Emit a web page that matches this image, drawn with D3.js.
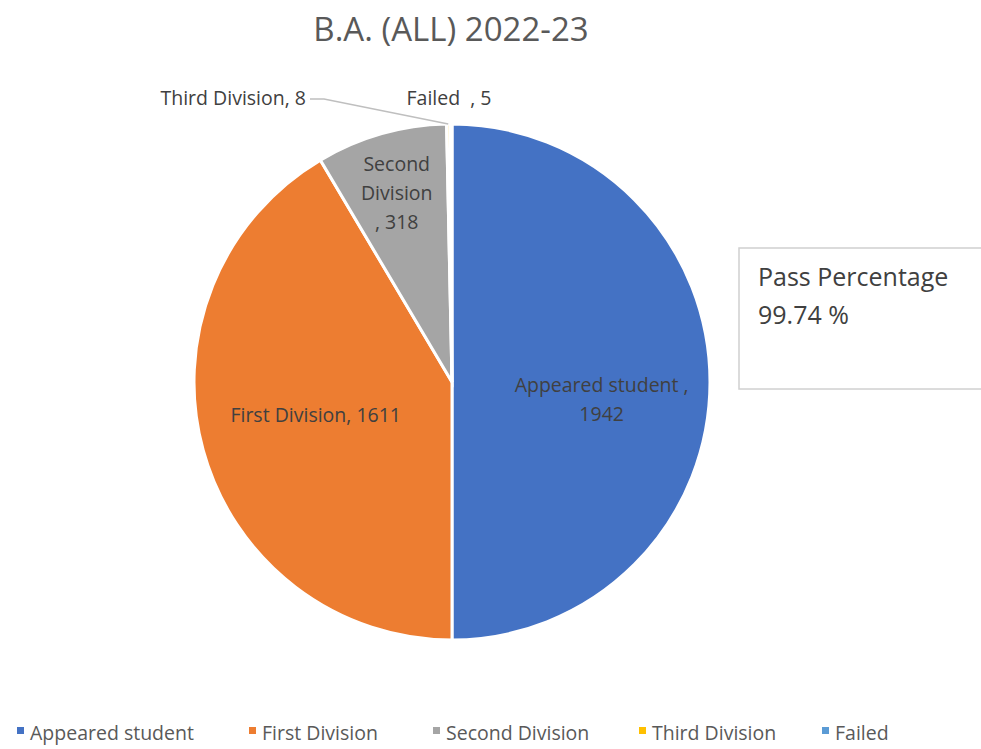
<!DOCTYPE html>
<html>
<head>
<meta charset="utf-8">
<script src="https://cdn.jsdelivr.net/npm/d3@7"></script>
<style>
body { margin: 0; background: #fff; }
text { font-family: "Open Sans", "Noto Sans", sans-serif; white-space: pre; }
</style>
</head>
<body>
<script>
var categories = ["Appeared student", "First Division", "Second Division", "Third Division", "Failed"];
var values = [1942, 1611, 318, 8, 5];
var colors = ["#4472c4", "#ed7d31", "#a5a5a5", "#ffc000", "#5b9bd5"];

var width = 981, height = 749;
var cx = 452, cy = 382, radius = 258;

var svg = d3.select("body").append("svg")
  .attr("width", width)
  .attr("height", height);

svg.append("text")
  .attr("x", 451).attr("y", 41)
  .attr("text-anchor", "middle")
  .style("font-size", "33px")
  .style("fill", "#595959")
  .text("B.A. (ALL) 2022-23");

var pie = d3.pie().sort(null).value(function(d) { return d; });
var arcs = pie(values);
var arc = d3.arc().innerRadius(0).outerRadius(radius);

var g = svg.append("g").attr("transform", "translate(" + cx + "," + cy + ")");

g.selectAll("path")
  .data(arcs)
  .enter()
  .append("path")
  .attr("d", arc)
  .style("fill", function(d, i) { return colors[i]; })
  .style("stroke", "#fff")
  .style("stroke-width", 3);

// labels inside / outside slices
var labelArc = d3.arc().innerRadius(radius * 0.58).outerRadius(radius * 0.58);
var labelStyle = function(sel) {
  sel.style("font-size", "19.5px").style("fill", "#404040").attr("text-anchor", "middle");
};

// Appeared student
var p0 = labelArc.centroid(arcs[0]);
var t0 = g.append("text").call(labelStyle).attr("y", p0[1] + 10);
t0.append("tspan").attr("x", p0[0]).text(categories[0] + " ,");
t0.append("tspan").attr("x", p0[0]).attr("dy", 29).text(values[0]);

// First Division
var p1 = labelArc.centroid(arcs[1]);
g.append("text").call(labelStyle)
  .attr("x", p1[0] + 8).attr("y", p1[1])
  .text(categories[1] + ", " + values[1]);

// Second Division
var secArc = d3.arc().innerRadius(radius * 0.78).outerRadius(radius * 0.78);
var p2 = secArc.centroid(arcs[2]);
var t2 = g.append("text").call(labelStyle).attr("y", p2[1] - 18);
t2.append("tspan").attr("x", p2[0]).text("Second");
t2.append("tspan").attr("x", p2[0]).attr("dy", 29).text("Division");
t2.append("tspan").attr("x", p2[0]).attr("dy", 29).text(", " + values[2]);

// Third Division, outside with leader line
var outer = d3.arc().innerRadius(radius).outerRadius(radius);
var p3 = outer.centroid(arcs[3]);
g.append("polyline")
  .attr("points", [[-142, -283], [-128, -283], [p3[0], p3[1]]].map(function(p) { return p.join(","); }).join(" "))
  .style("fill", "none")
  .style("stroke", "#bfbfbf")
  .style("stroke-width", 1.5);
g.append("text").call(labelStyle)
  .attr("text-anchor", "end")
  .attr("x", -146).attr("y", -277)
  .text(categories[3] + ", " + values[3]);

// Failed
g.append("text").call(labelStyle)
  .attr("x", -3).attr("y", -277)
  .text(categories[4] + "  , " + values[4]);

// Pass percentage box
svg.append("rect")
  .attr("x", 739).attr("y", 248)
  .attr("width", 260).attr("height", 141)
  .style("fill", "#fff")
  .style("stroke", "#d0d0d0")
  .style("stroke-width", 1.5);
svg.append("text").attr("x", 758).attr("y", 286)
  .style("font-size", "25px").style("fill", "#404040")
  .text("Pass Percentage");
svg.append("text").attr("x", 758).attr("y", 324)
  .style("font-size", "25px").style("fill", "#404040")
  .text("99.74 %");

// legend
var legendX = [17, 249, 433, 639, 822];
var legend = svg.selectAll(".leg")
  .data(categories)
  .enter()
  .append("g")
  .attr("transform", function(d, i) { return "translate(" + legendX[i] + ",733)"; });
legend.append("rect")
  .attr("x", 0).attr("y", -6)
  .attr("width", 7).attr("height", 7)
  .style("fill", function(d, i) { return colors[i]; });
legend.append("text")
  .attr("x", 13).attr("y", 7)
  .style("font-size", "19.5px").style("fill", "#595959")
  .text(function(d) { return d; });
</script>
</body>
</html>
